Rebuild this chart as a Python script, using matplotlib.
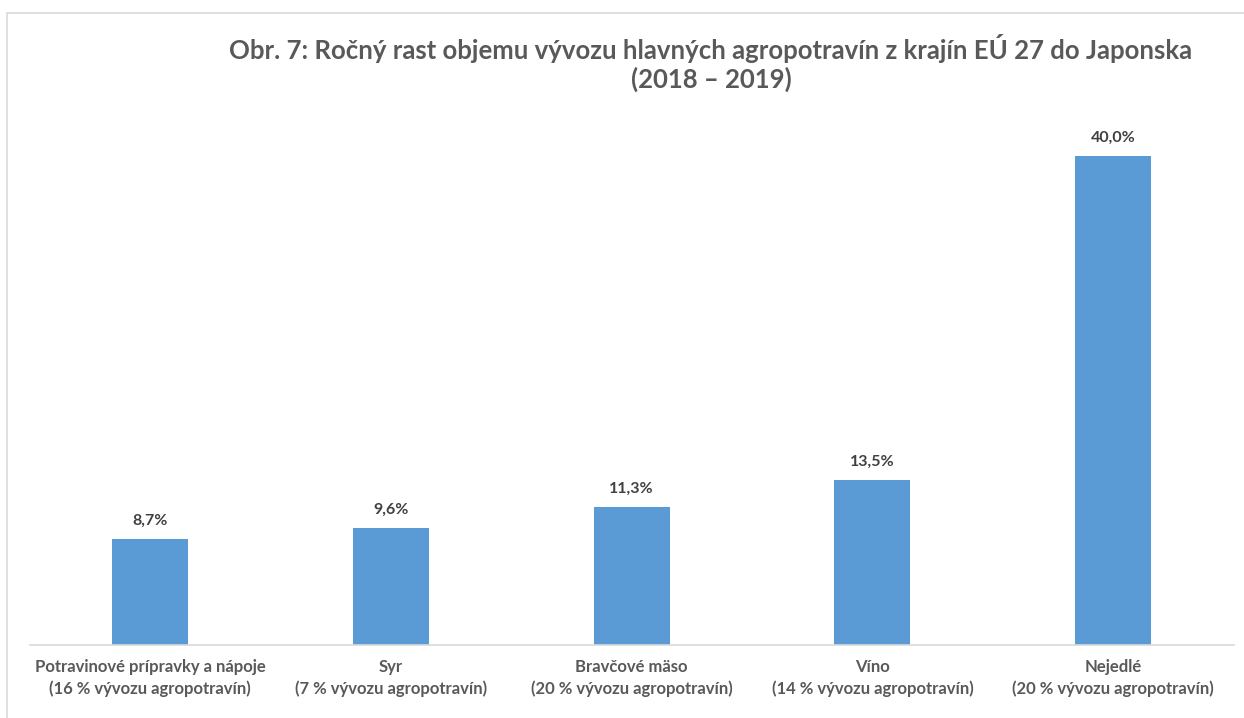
import matplotlib
matplotlib.use("Agg")
import matplotlib.pyplot as plt
from matplotlib.patches import Rectangle

categories = [
    "Potravinové prípravky a nápoje\n(16 % vývozu agropotravín)",
    "Syr\n(7 % vývozu agropotravín)",
    "Bravčové mäso\n(20 % vývozu agropotravín)",
    "Víno\n(14 % vývozu agropotravín)",
    "Nejedlé\n(20 % vývozu agropotravín)",
]
growth = [8.7, 9.6, 11.3, 13.5, 40.0]
value_labels = ["8,7%", "9,6%", "11,3%", "13,5%", "40,0%"]

BLUE = "#5b9bd5"
TEXT = "#595959"
FONT = ["Lato", "DejaVu Sans"]

W, H = 1244, 718
fig = plt.figure(figsize=(W / 100, H / 100), dpi=100)
# frame of the chart area (left and top edges visible)
fig.patches.append(Rectangle((7 / W, -0.01), 1.1, (H - 13) / H + 0.01,
                             transform=fig.transFigure, fill=False,
                             ec="#d9d9d9", lw=1.2))

ax = fig.add_axes([29.6 / W, (H - 645) / H, 1204 / W, (645 - 120) / H])
x = range(len(categories))
ax.bar(x, growth, width=0.316, color=BLUE, zorder=2)
ax.set_xlim(-0.5, len(categories) - 0.5)
ax.set_ylim(0, (645 - 120) / 12.23)

for i, (v, lab) in enumerate(zip(growth, value_labels)):
    ax.annotate(lab, (i, v), xytext=(0, 8), textcoords="offset points",
                ha="center", va="bottom", fontsize=11.5, fontweight="bold",
                color="#404040", family=FONT)

ax.set_xticks(list(x))
ax.set_xticklabels(categories, fontsize=12, fontweight="bold", color=TEXT,
                   family=FONT, linespacing=1.4)
ax.tick_params(axis="x", length=0, pad=10)
ax.set_yticks([])
for side in ("top", "right", "left"):
    ax.spines[side].set_visible(False)
ax.spines["bottom"].set_color("#d9d9d9")
ax.spines["bottom"].set_linewidth(1.2)

fig.text(711 / W, 1 - 63 / H,
         "Obr. 7: Ročný rast objemu vývozu hlavných agropotravín z krajín EÚ 27 do Japonska\n(2018 – 2019)",
         ha="center", va="center", fontsize=18.5, fontweight="bold",
         color=TEXT, family=FONT, linespacing=1.2)

fig.savefig("out.png", facecolor="white")
